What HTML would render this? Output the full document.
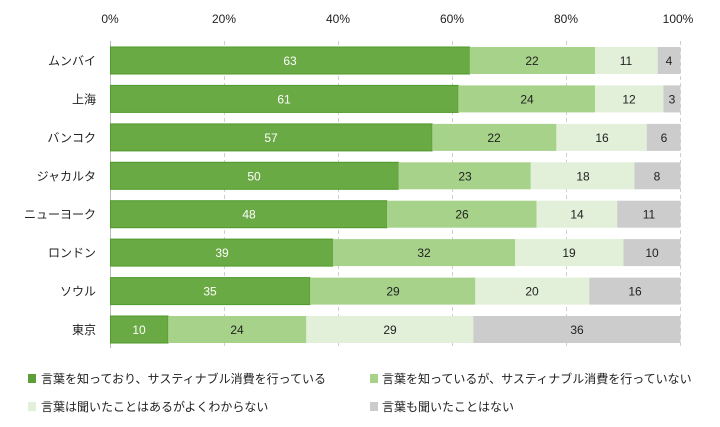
<!DOCTYPE html>
<html><head><meta charset="utf-8"><style>
body{margin:0;background:#fff;}
svg{display:block;font-family:"Liberation Sans","Noto Sans CJK JP",sans-serif;}
.a{fill:#6aaa44;stroke:#4e9a2a;stroke-width:1}.b{fill:#a6d28a}.c{fill:#e2f0d9}.d{fill:#cccccc}
.l{font-size:12px;fill:#222;text-anchor:end}
.v{font-size:12px;fill:#222;text-anchor:middle}.w{font-size:12px;fill:#fff;text-anchor:middle}
</style></head><body>
<svg width="720" height="427" viewBox="0 0 720 427" xmlns="http://www.w3.org/2000/svg">
<g font-size="12" fill="#222" text-anchor="middle">
<text x="110" y="23">0%</text><text x="224" y="23">20%</text><text x="338" y="23">40%</text>
<text x="452" y="23">60%</text><text x="566" y="23">80%</text><text x="678" y="23">100%</text>
</g>
<g stroke="#cfcfcf" stroke-width="1" stroke-dasharray="4,3">
<line x1="224.5" y1="41" x2="224.5" y2="348"/><line x1="338.5" y1="41" x2="338.5" y2="348"/>
<line x1="452.5" y1="41" x2="452.5" y2="348"/><line x1="566.5" y1="41" x2="566.5" y2="348"/>
<line x1="680.5" y1="41" x2="680.5" y2="348"/>
</g>
<line x1="110.5" y1="41" x2="110.5" y2="348" stroke="#bbb"/>

<g transform="translate(0,47)">
<text class="l" x="96" y="18">ムンバイ</text>
<rect class="a" x="110.5" y="0" width="359.1" height="27"/><rect class="b" x="469.6" y="0" width="125.4" height="27"/><rect class="c" x="595" y="0" width="62.7" height="27"/><rect class="d" x="657.7" y="0" width="22.8" height="27"/>
<text class="w" x="290" y="18">63</text><text class="v" x="532" y="18">22</text><text class="v" x="626" y="18">11</text><text class="v" x="669" y="18">4</text>
</g>
<g transform="translate(0,85.4)">
<text class="l" x="96" y="18">上海</text>
<rect class="a" x="110.5" y="0" width="347.7" height="27"/><rect class="b" x="458.2" y="0" width="136.8" height="27"/><rect class="c" x="595" y="0" width="68.4" height="27"/><rect class="d" x="663.4" y="0" width="17.1" height="27"/>
<text class="w" x="284" y="18">61</text><text class="v" x="527" y="18">24</text><text class="v" x="629" y="18">12</text><text class="v" x="672" y="18">3</text>
</g>
<g transform="translate(0,123.9)">
<text class="l" x="96" y="18">バンコク</text>
<rect class="a" x="110.5" y="0" width="321.7" height="27"/><rect class="b" x="432.2" y="0" width="124.2" height="27"/><rect class="c" x="556.4" y="0" width="90.3" height="27"/><rect class="d" x="646.7" y="0" width="33.9" height="27"/>
<text class="w" x="271" y="18">57</text><text class="v" x="494" y="18">22</text><text class="v" x="602" y="18">16</text><text class="v" x="664" y="18">6</text>
</g>
<g transform="translate(0,162.3)">
<text class="l" x="96" y="18">ジャカルタ</text>
<rect class="a" x="110.5" y="0" width="287.9" height="27"/><rect class="b" x="398.4" y="0" width="132.4" height="27"/><rect class="c" x="530.8" y="0" width="103.6" height="27"/><rect class="d" x="634.4" y="0" width="46.1" height="27"/>
<text class="w" x="254" y="18">50</text><text class="v" x="465" y="18">23</text><text class="v" x="583" y="18">18</text><text class="v" x="657" y="18">8</text>
</g>
<g transform="translate(0,200.7)">
<text class="l" x="96" y="18">ニューヨーク</text>
<rect class="a" x="110.5" y="0" width="276.4" height="27"/><rect class="b" x="386.9" y="0" width="149.7" height="27"/><rect class="c" x="536.6" y="0" width="80.6" height="27"/><rect class="d" x="617.2" y="0" width="63.3" height="27"/>
<text class="w" x="249" y="18">48</text><text class="v" x="462" y="18">26</text><text class="v" x="577" y="18">14</text><text class="v" x="649" y="18">11</text>
</g>
<g transform="translate(0,239.1)">
<text class="l" x="96" y="18">ロンドン</text>
<rect class="a" x="110.5" y="0" width="222.3" height="27"/><rect class="b" x="332.8" y="0" width="182.4" height="27"/><rect class="c" x="515.2" y="0" width="108.3" height="27"/><rect class="d" x="623.5" y="0" width="57" height="27"/>
<text class="w" x="222" y="18">39</text><text class="v" x="424" y="18">32</text><text class="v" x="569" y="18">19</text><text class="v" x="652" y="18">10</text>
</g>
<g transform="translate(0,277.6)">
<text class="l" x="96" y="18">ソウル</text>
<rect class="a" x="110.5" y="0" width="199.5" height="27"/><rect class="b" x="310" y="0" width="165.3" height="27"/><rect class="c" x="475.3" y="0" width="114" height="27"/><rect class="d" x="589.3" y="0" width="91.2" height="27"/>
<text class="w" x="210" y="18">35</text><text class="v" x="393" y="18">29</text><text class="v" x="532" y="18">20</text><text class="v" x="635" y="18">16</text>
</g>
<g transform="translate(0,316)">
<text class="l" x="96" y="18">東京</text>
<rect class="a" x="110.5" y="0" width="57.6" height="27"/><rect class="b" x="168.1" y="0" width="138.2" height="27"/><rect class="c" x="306.3" y="0" width="167" height="27"/><rect class="d" x="473.3" y="0" width="207.2" height="27"/>
<text class="w" x="139" y="18">10</text><text class="v" x="237" y="18">24</text><text class="v" x="390" y="18">29</text><text class="v" x="577" y="18">36</text>
</g>

<g font-size="12" fill="#222">
<rect x="28" y="374" width="8" height="9" fill="#5e9e38"/><text x="41" y="383">言葉を知っており、サスティナブル消費を行っている</text>
<rect x="370" y="374" width="8" height="9" fill="#a6d28a"/><text x="382" y="383">言葉を知っているが、サスティナブル消費を行っていない</text>
<rect x="28" y="402" width="8" height="9" fill="#e2f0d9"/><text x="41" y="411">言葉は聞いたことはあるがよくわからない</text>
<rect x="370" y="402" width="8" height="9" fill="#cccccc"/><text x="382" y="411">言葉も聞いたことはない</text>
</g>
</svg>
</body></html>
